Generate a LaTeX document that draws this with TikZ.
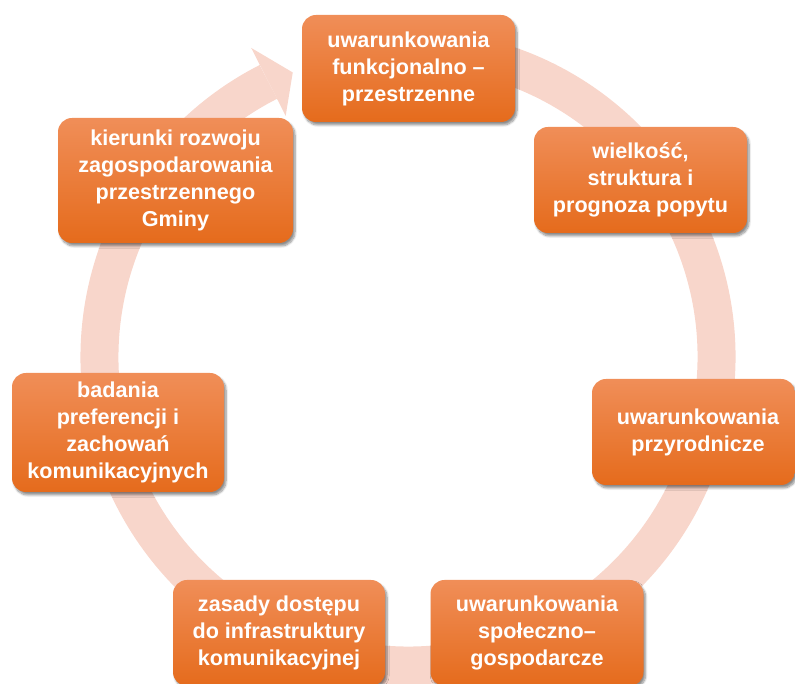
\documentclass[tikz,border=0pt]{standalone}
\usepackage{fontspec}
\setmainfont{Liberation Sans}
\usetikzlibrary{shadows.blur}
\definecolor{ringpink}{RGB}{248,214,203}
\definecolor{boxtop}{RGB}{240,142,88}
\definecolor{boxmid}{RGB}{243,124,40}
\definecolor{boxbot}{RGB}{229,107,28}
\tikzset{
  stagebox/.style={rounded corners=14pt, top color=boxtop, middle color=boxmid, bottom color=boxbot,
    draw=none, text=white, align=center, inner sep=0pt,
    font=\bfseries\fontsize{21.6}{27}\selectfont,
    blur shadow={shadow xshift=2pt, shadow yshift=-3pt, shadow blur steps=8, shadow opacity=45}},
  ringline/.style={draw=ringpink, line width=38pt},
}
\begin{document}
\begin{tikzpicture}[x=1pt,y=1pt]
\clip (0,0) rectangle (795,684);
% circular arrow ring
\begin{scope}[shift={(408,327)}]
  \coordinate (ringstart) at (80:308.5);
  \draw[ringline] (ringstart) arc[start angle=80, end angle=-243.1, radius=308.5];
  \coordinate (headout) at (116.9:346.6);
  \coordinate (headin) at (116.9:270.4);
  \coordinate (headtip) at (112.05:307);
  \fill[ringpink] (headout) -- (headtip) -- (headin) -- cycle;
\end{scope}
% stages
\node[stagebox, minimum width=213pt, minimum height=107pt] (s1) at (408.5,615.5) {uwarunkowania\\funkcjonalno –\\przestrzenne};
\node[stagebox, minimum width=213pt, minimum height=106pt] (s2) at (640.5,504) {wielkość,\\struktura i\\prognoza popytu};
\node[stagebox, minimum width=203pt, minimum height=106pt] (s3) at (693.5,252) {\hspace*{9pt}uwarunkowania\\\hspace*{9pt}przyrodnicze};
\node[stagebox, minimum width=213pt, minimum height=106pt] (s4) at (537,51) {uwarunkowania\\społeczno–\\gospodarcze};
\node[stagebox, minimum width=212pt, minimum height=106pt] (s5) at (279,51) {zasady dostępu\\do infrastruktury\\komunikacyjnej};
\node[stagebox, minimum width=212pt, minimum height=119pt] (s6) at (118,251.5) {badania\\preferencji i\\zachowań\\komunikacyjnych};
\node[stagebox, minimum width=235pt, minimum height=125pt] (s7) at (175.5,503.5) {kierunki rozwoju\\zagospodarowania\\przestrzennego\\Gminy};
\end{tikzpicture}
\end{document}
